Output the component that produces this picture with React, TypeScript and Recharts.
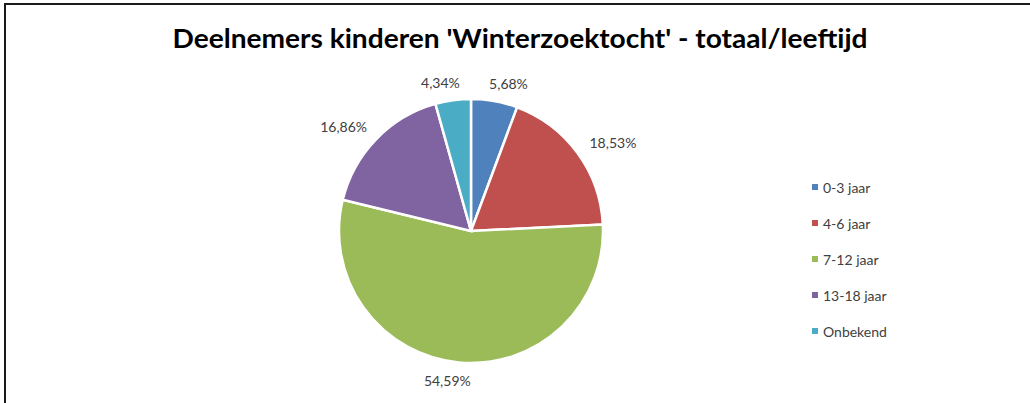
import React from "react";
import { PieChart, Pie, Cell, Legend } from "recharts";

const categories = ["0-3 jaar", "4-6 jaar", "7-12 jaar", "13-18 jaar", "Onbekend"];
const shares = [5.68, 18.53, 54.59, 16.86, 4.34];
const colors = ["#4F81BD", "#C0504D", "#9BBB59", "#8064A2", "#4BACC6"];

const data = categories.map((name, i) => ({ name, value: shares[i] }));

const total = shares.reduce((a, b) => a + b, 0);
const fmt = (v: number) => v.toFixed(2).replace(".", ",") + "%";

// angle of slice middle, clockwise from 12 o'clock
const midFraction = (i: number) => {
  let before = 0;
  for (let k = 0; k < i; k++) before += shares[k];
  return (before + shares[i] / 2) / total;
};

const renderLabel = (props: any) => {
  const { cx, cy, outerRadius, value, index } = props;
  const a = midFraction(index) * 2 * Math.PI;
  const dx = Math.sin(a);
  const dy = -Math.cos(a);
  const x = cx + dx * (outerRadius + 34) + 8 * Math.sign(dx);
  const y = cy + dy * (outerRadius + 18);
  return (
    <text
      x={x}
      y={y}
      textAnchor="middle"
      dominantBaseline="central"
      fill="#404040"
      fontSize={14}
      fontFamily="Lato, sans-serif"
    >
      {fmt(value)}
    </text>
  );
};

const renderLegend = () => (
  <div style={{ fontFamily: "Lato, sans-serif", fontSize: 14, color: "#404040" }}>
    {categories.map((c, i) => (
      <div key={c} style={{ display: "flex", alignItems: "center", height: 36 }}>
        <span
          style={{ width: 6, height: 6, background: colors[i], marginRight: 5, display: "inline-block" }}
        />
        <span>{c}</span>
      </div>
    ))}
  </div>
);

export default function App() {
  return (
    <div style={{ position: "relative", width: 1030, height: 403, background: "#fff" }}>
      <style>{`body{margin:0}`}</style>
      <div
        style={{
          position: "absolute",
          left: 4,
          top: 3,
          right: 0,
          bottom: 0,
          borderLeft: "2px solid #1a1a1a",
          borderTop: "2px solid #1a1a1a",
        }}
      />
      <PieChart
        width={1030}
        height={403}
        margin={{ top: 0, right: 0, bottom: 0, left: 0 }}
        style={{ position: "absolute", left: 0, top: 0 }}
      >
        <text
          x={520}
          y={48}
          textAnchor="middle"
          fontFamily="Lato, sans-serif"
          fontWeight={700}
          fontSize={27}
          fill="#000"
          textLength={695}
          lengthAdjust="spacingAndGlyphs"
        >
          Deelnemers kinderen 'Winterzoektocht' - totaal/leeftijd
        </text>
        <Pie
          data={data}
          dataKey="value"
          cx={471}
          cy={231}
          outerRadius={132}
          startAngle={90}
          endAngle={-270}
          stroke="#fff"
          strokeWidth={2.5}
          label={renderLabel}
          labelLine={false}
          isAnimationActive={false}
        >
          {data.map((d, i) => (
            <Cell key={d.name} fill={colors[i]} />
          ))}
        </Pie>
        <Legend
          content={renderLegend}
          layout="vertical"
          wrapperStyle={{ position: "absolute", left: 812, top: 169, width: 120 }}
        />
      </PieChart>
    </div>
  );
}
